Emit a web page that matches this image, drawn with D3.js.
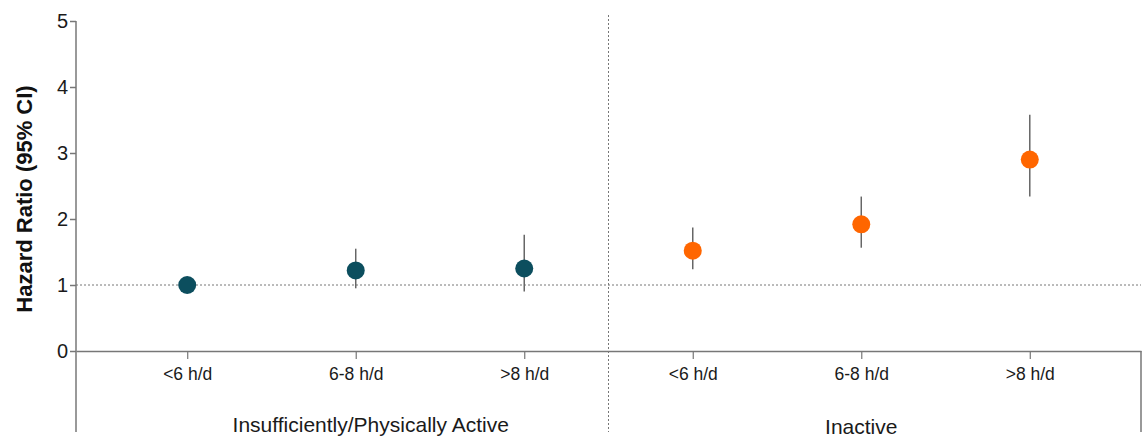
<!DOCTYPE html>
<html>
<head>
<meta charset="utf-8">
<script src="https://cdn.jsdelivr.net/npm/d3@7"></script>
<style>
  body { margin: 0; background: #fff; }
  svg { font-family: "Liberation Sans", Arial, sans-serif; }
</style>
</head>
<body>
<div id="chart"></div>
<script>
// Data
const categories = ["<6 h/d", "6-8 h/d", ">8 h/d", "<6 h/d ", "6-8 h/d ", ">8 h/d "];
const groups = ["Insufficiently/Physically Active", "Inactive"];
const groupOf = [0, 0, 0, 1, 1, 1];
const hazardRatio = [1.0, 1.22, 1.25, 1.52, 1.92, 2.9];
const ciLower = [1.0, 0.95, 0.9, 1.24, 1.565, 2.34];
const ciUpper = [1.0, 1.55, 1.76, 1.87, 2.34, 3.58];
const yTicks = [0, 1, 2, 3, 4, 5];
const groupColors = ["#0c4e5e", "#ff6600"];

const width = 1143;
const height = 439;
const margin = { top: 21, right: 2, bottom: 88, left: 76 };
const axisColor = "#777";

const svg = d3
  .select("#chart")
  .append("svg")
  .attr("width", width)
  .attr("height", height);

const x = d3
  .scalePoint()
  .domain(categories)
  .range([margin.left, width - margin.right])
  .padding(0.66);

const y = d3
  .scaleLinear()
  .domain([0, 5])
  .range([height - margin.bottom, margin.top]);

// Reference line at HR = 1
svg
  .append("line")
  .attr("x1", margin.left)
  .attr("x2", width - margin.right)
  .attr("y1", y(1))
  .attr("y2", y(1))
  .attr("stroke", "#777")
  .attr("stroke-width", 1)
  .attr("stroke-dasharray", "2,2");

// Separator between the two groups
const sepX = (x(categories[2]) + x(categories[3])) / 2;
svg
  .append("line")
  .attr("x1", sepX)
  .attr("x2", sepX)
  .attr("y1", 15)
  .attr("y2", 432)
  .attr("stroke", "#777")
  .attr("stroke-width", 1)
  .attr("stroke-dasharray", "2,2");

// Y axis
const yAxis = svg
  .append("g")
  .attr("transform", `translate(${margin.left},0)`)
  .call(d3.axisLeft(y).tickValues(yTicks).tickSize(6).tickPadding(2).tickFormat(d3.format("d")));
yAxis.attr("font-family", null);
yAxis.select(".domain").remove();
yAxis.selectAll(".tick line").attr("stroke", axisColor).attr("stroke-width", 1.5);
yAxis
  .selectAll(".tick text")
  .attr("fill", "#1a1a1a")
  .style("font-size", "20px");

// Y axis line extends below zero
svg
  .append("line")
  .attr("x1", margin.left)
  .attr("x2", margin.left)
  .attr("y1", y(5))
  .attr("y2", 432)
  .attr("stroke", axisColor)
  .attr("stroke-width", 1.5);

// X axis
const xAxis = svg
  .append("g")
  .attr("transform", `translate(0,${y(0)})`)
  .call(d3.axisBottom(x).tickSize(8).tickPadding(9).tickSizeOuter(0));
xAxis.attr("font-family", null);
xAxis.select(".domain").attr("stroke", axisColor).attr("stroke-width", 1.5);
xAxis.selectAll(".tick line").attr("stroke", axisColor).attr("stroke-width", 1.2);
xAxis
  .selectAll(".tick text")
  .attr("fill", "#1a1a1a")
  .style("font-size", "17.5px")
  .text((d) => d.trim());

// Right edge
svg
  .append("line")
  .attr("x1", width - margin.right)
  .attr("x2", width - margin.right)
  .attr("y1", y(0))
  .attr("y2", 432)
  .attr("stroke", axisColor)
  .attr("stroke-width", 1.5);

// Group labels
const groupX = [x(categories[1]) + 15, x(categories[4])];
const groupY = [432, 434];
svg
  .selectAll(".group-label")
  .data(groups)
  .enter()
  .append("text")
  .attr("class", "group-label")
  .attr("x", (d, i) => groupX[i])
  .attr("y", (d, i) => groupY[i])
  .attr("text-anchor", "middle")
  .attr("fill", "#1a1a1a")
  .style("font-size", "21px")
  .text((d) => d);

// Y axis title
svg
  .append("text")
  .attr("transform", "rotate(-90)")
  .attr("x", -199)
  .attr("y", 32)
  .attr("text-anchor", "middle")
  .attr("fill", "#111")
  .style("font-size", "22px")
  .style("font-weight", "bold")
  .text("Hazard Ratio (95% CI)");

// Confidence intervals
svg
  .selectAll(".ci")
  .data(categories)
  .enter()
  .append("line")
  .attr("class", "ci")
  .attr("x1", (d) => x(d))
  .attr("x2", (d) => x(d))
  .attr("y1", (d, i) => y(ciLower[i]))
  .attr("y2", (d, i) => y(ciUpper[i]))
  .attr("stroke", "#666")
  .attr("stroke-width", 1.5);

// Points
svg
  .selectAll(".pt")
  .data(categories)
  .enter()
  .append("circle")
  .attr("class", "pt")
  .attr("cx", (d) => x(d))
  .attr("cy", (d, i) => y(hazardRatio[i]))
  .attr("r", 9)
  .attr("fill", (d, i) => groupColors[groupOf[i]]);
</script>
</body>
</html>
